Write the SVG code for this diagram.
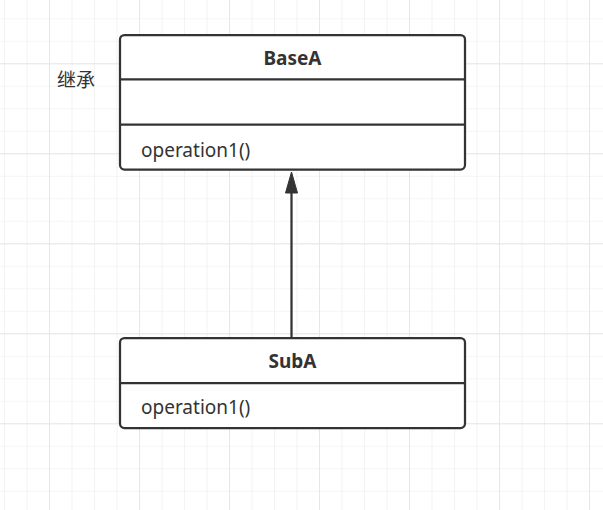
<svg xmlns="http://www.w3.org/2000/svg" width="603" height="510" viewBox="0 0 603 510">
<defs>
<pattern id="minor" x="4" y="18.3" width="22.5" height="22.5" patternUnits="userSpaceOnUse">
<path d="M0 0H22.5M0 0V22.5" fill="none" stroke="#ececec" stroke-width="1.2"/>
</pattern>
<pattern id="major" x="49" y="63.3" width="90" height="90" patternUnits="userSpaceOnUse">
<path d="M0 0H90M0 0V90" fill="none" stroke="#e2e2e2" stroke-width="1.4"/>
</pattern>
</defs>
<style>
.box{fill:#ffffff;stroke:#333333;stroke-width:2.25}
.div{stroke:#333333;stroke-width:2.25}
.title{font-family:"Noto Sans","Open Sans","Liberation Sans",sans-serif;font-weight:bold;font-size:19px;fill:#333333;text-anchor:middle}
.op{font-family:"Noto Sans","Open Sans","Liberation Sans",sans-serif;font-size:19px;fill:#333333}
.lbl{font-family:"Noto Sans CJK SC",sans-serif;font-size:19px;fill:#333333}
.edge{stroke:#333333;stroke-width:2.25;fill:none}
</style>
<rect width="603" height="510" fill="#ffffff"/>
<rect width="603" height="510" fill="url(#minor)"/>
<rect width="603" height="510" fill="url(#major)"/>
<g id="label-inherit">
<text class="lbl" x="57" y="87">继承</text>
</g>
<g id="connectors">
<line class="edge" x1="291.5" y1="338" x2="291.5" y2="190"/>
<polygon points="291.5,172 285.5,193 297.5,193" fill="#333333" stroke="#333333" stroke-width="1"/>
</g>
<g id="BaseA">
<rect class="box" x="120" y="35" width="345" height="134.5" rx="4.5"/>
<line class="div" x1="120" y1="79.3" x2="465" y2="79.3"/>
<line class="div" x1="120" y1="124.5" x2="465" y2="124.5"/>
<text class="title" x="292.5" y="64.5">BaseA</text>
<text class="op" x="141" y="156.5">operation1()</text>
</g>
<g id="SubA">
<rect class="box" x="120" y="338" width="345" height="90" rx="4.5"/>
<line class="div" x1="120" y1="383" x2="465" y2="383"/>
<text class="title" x="292.5" y="367.5">SubA</text>
<text class="op" x="141" y="413.5">operation1()</text>
</g>
</svg>
